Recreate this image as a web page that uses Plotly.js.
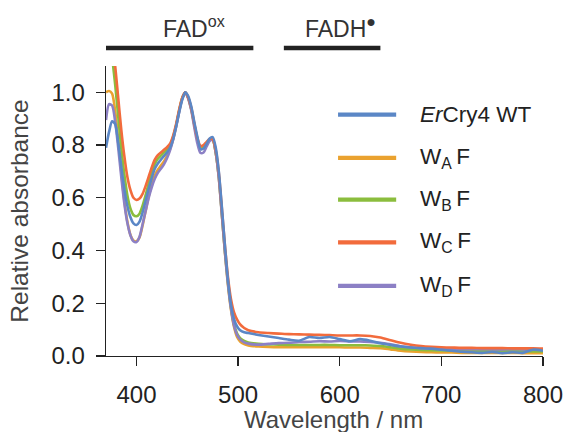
<!DOCTYPE html>
<html>
<head>
<meta charset="utf-8">
<script src="https://cdn.plot.ly/plotly-3.0.1.min.js"></script>
<style>html,body{margin:0;padding:0;background:#fff;}#chart{width:566px;height:432px;}</style>
</head>
<body>
<div id="chart"></div>
<script>
// Wavelength grid (nm)
const wavelength = [370,373,376,379,382,385,388,391,394,397,400,403,406,409,412,415,418,421,424,427,430,433,436,439,442,445,448,451,454,457,460,463,466,469,472,475,478,481,484,487,490,493,496,499,502,506,510,520,530,540,550,560,570,580,590,600,610,620,630,640,650,660,670,680,690,700,710,720,730,740,750,760,770,780,790,800];

// ErCry4 WT
const absWT = [0.79,0.85,0.89,0.88,0.81,0.72,0.635,0.57,0.527,0.503,0.497,0.51,0.545,0.59,0.635,0.675,0.71,0.73,0.745,0.758,0.772,0.79,0.822,0.87,0.925,0.972,1.0,0.985,0.945,0.885,0.83,0.785,0.787,0.805,0.825,0.83,0.79,0.70,0.565,0.42,0.29,0.195,0.14,0.112,0.098,0.09,0.087,0.08,0.074,0.068,0.062,0.058,0.072,0.068,0.072,0.064,0.056,0.064,0.058,0.048,0.042,0.036,0.032,0.03,0.028,0.024,0.02,0.016,0.014,0.012,0.015,0.011,0.014,0.012,0.024,0.02];
// W_A F
const absWAF = [1.0,1.005,0.995,0.93,0.82,0.70,0.59,0.51,0.46,0.438,0.435,0.45,0.495,0.55,0.605,0.65,0.685,0.707,0.722,0.738,0.758,0.785,0.822,0.872,0.93,0.978,1.0,0.978,0.935,0.875,0.82,0.79,0.793,0.806,0.82,0.822,0.772,0.678,0.538,0.395,0.27,0.175,0.11,0.072,0.055,0.045,0.040,0.036,0.034,0.033,0.033,0.033,0.033,0.033,0.033,0.033,0.032,0.032,0.031,0.030,0.025,0.020,0.017,0.015,0.014,0.013,0.013,0.012,0.012,0.012,0.012,0.012,0.012,0.011,0.011,0.011];
// W_B F
const absWBF = [1.45,1.32,1.14,1.03,0.91,0.79,0.69,0.61,0.56,0.535,0.53,0.54,0.57,0.61,0.655,0.695,0.728,0.748,0.76,0.772,0.782,0.797,0.83,0.875,0.93,0.978,1.0,0.978,0.935,0.875,0.82,0.786,0.79,0.805,0.82,0.82,0.77,0.68,0.54,0.40,0.28,0.185,0.12,0.085,0.068,0.057,0.051,0.046,0.044,0.043,0.042,0.042,0.042,0.042,0.042,0.041,0.041,0.041,0.040,0.038,0.033,0.028,0.025,0.023,0.022,0.021,0.020,0.020,0.019,0.019,0.018,0.018,0.018,0.018,0.017,0.017];
// W_C F
const absWCF = [1.35,1.28,1.19,1.10,0.98,0.86,0.76,0.68,0.63,0.60,0.592,0.597,0.615,0.645,0.68,0.715,0.745,0.762,0.772,0.782,0.792,0.805,0.835,0.88,0.935,0.98,1.0,0.98,0.94,0.88,0.825,0.797,0.80,0.812,0.823,0.822,0.78,0.695,0.56,0.42,0.30,0.215,0.165,0.138,0.12,0.106,0.098,0.090,0.087,0.085,0.083,0.082,0.081,0.080,0.079,0.078,0.078,0.078,0.076,0.070,0.060,0.050,0.043,0.038,0.035,0.033,0.032,0.031,0.031,0.030,0.030,0.030,0.029,0.029,0.029,0.028];
// W_D F
const absWDF = [0.895,0.955,0.95,0.89,0.79,0.68,0.58,0.505,0.458,0.435,0.432,0.452,0.50,0.55,0.60,0.64,0.672,0.695,0.71,0.727,0.75,0.78,0.82,0.87,0.925,0.975,1.0,0.975,0.93,0.865,0.805,0.77,0.772,0.795,0.815,0.82,0.77,0.675,0.535,0.395,0.275,0.18,0.115,0.08,0.063,0.052,0.047,0.043,0.046,0.049,0.05,0.053,0.054,0.056,0.055,0.057,0.055,0.055,0.053,0.05,0.044,0.037,0.033,0.030,0.028,0.027,0.027,0.026,0.026,0.026,0.025,0.025,0.026,0.025,0.025,0.025];

const seriesNames = ['<i>Er</i>Cry4 WT', 'W<sub>A</sub>\u2009F', 'W<sub>B</sub>\u2009F', 'W<sub>C</sub>\u2009F', 'W<sub>D</sub>\u2009F'];
const seriesValues = [absWT, absWAF, absWBF, absWCF, absWDF];
const seriesColors = ['#5b87c6', '#eaa22f', '#8bbd3d', '#f26b3c', '#8c80c5'];
const drawOrder = [1, 2, 4, 3, 0];

const xTickVals = [400, 500, 600, 700, 800];
const yTickVals = [0, 0.2, 0.4, 0.6, 0.8, 1.0];
const yTickText = ['0.0', '0.2', '0.4', '0.6', '0.8', '1.0'];
const xTitle = 'Wavelength / nm';
const yTitle = 'Relative absorbance';

// Redox-state bands above the plot
const bandLabels = ['FAD<sup>ox</sup>', 'FADH<sup>\u25CF</sup>'];
const bandStart = [370, 545];
const bandEnd = [515, 640];
const bandLabelX = [424, 564];

const FONT = 'Liberation Sans, Arial, Helvetica, sans-serif';

const traces = drawOrder.map(i => ({
  x: wavelength,
  y: seriesValues[i],
  type: 'scatter',
  mode: 'lines',
  name: seriesNames[i],
  line: {color: seriesColors[i], width: 2.6, shape: 'spline', smoothing: 0.7},
  showlegend: false,
  hoverinfo: 'skip'
}));

const shapes = [];
const annotations = [];

bandLabels.forEach((lab, i) => {
  shapes.push({type: 'line', xref: 'x', yref: 'paper', x0: bandStart[i], x1: bandEnd[i], y0: 1.062, y1: 1.062,
    line: {color: '#222', width: 4.5}});
  annotations.push({xref: 'x', yref: 'paper', x: bandLabelX[i], y: 1.075, xanchor: 'left', yanchor: 'bottom',
    text: lab, showarrow: false, font: {family: FONT, size: 23, color: '#333'}});
});

// x-axis title placed below the tick labels, near the image edge as in the reference
annotations.push({xref: 'paper', yref: 'paper', x: 0.52, y: -0.1655, xanchor: 'center', yanchor: 'top',
  text: xTitle, showarrow: false, font: {family: FONT, size: 24, color: '#444'}});

// Manual legend
const legY = [0.832, 0.683, 0.539, 0.392, 0.242];
seriesNames.forEach((nm, i) => {
  shapes.push({type: 'line', xref: 'paper', yref: 'paper', x0: 0.531, x1: 0.664, y0: legY[i], y1: legY[i],
    line: {color: seriesColors[i], width: 4.2}});
  annotations.push({xref: 'paper', yref: 'paper', x: 0.714, y: legY[i], xanchor: 'left', yanchor: 'middle',
    text: nm, showarrow: false, font: {family: FONT, size: 22.5, color: '#222'}});
});

const layout = {
  width: 566, height: 432,
  margin: {l: 106, r: 23, t: 66, b: 76, pad: 0},
  paper_bgcolor: '#fff', plot_bgcolor: '#fff',
  font: {family: FONT, color: '#222'},
  xaxis: {
    range: [370, 800], tickvals: xTickVals, ticks: 'outside', ticklen: 9, tickwidth: 1.3, tickcolor: '#222',
    showline: true, linecolor: '#222', linewidth: 1.3, showgrid: false, zeroline: false, mirror: false,
    tickfont: {family: FONT, size: 24, color: '#222'}, ticklabelstandoff: 8
  },
  yaxis: {
    range: [0, 1.1], tickvals: yTickVals, ticktext: yTickText, ticks: 'outside', ticklen: 9, tickwidth: 1.3, tickcolor: '#222',
    showline: true, linecolor: '#222', linewidth: 1.3, showgrid: false, zeroline: false, mirror: false,
    tickfont: {family: FONT, size: 24, color: '#222'}, ticklabelstandoff: 6,
    title: {text: yTitle, font: {family: FONT, size: 24.5, color: '#444'}, standoff: 16}
  },
  shapes: shapes,
  annotations: annotations,
  showlegend: false
};

Plotly.newPlot('chart', traces, layout, {staticPlot: true, displayModeBar: false});
</script>
</body>
</html>
